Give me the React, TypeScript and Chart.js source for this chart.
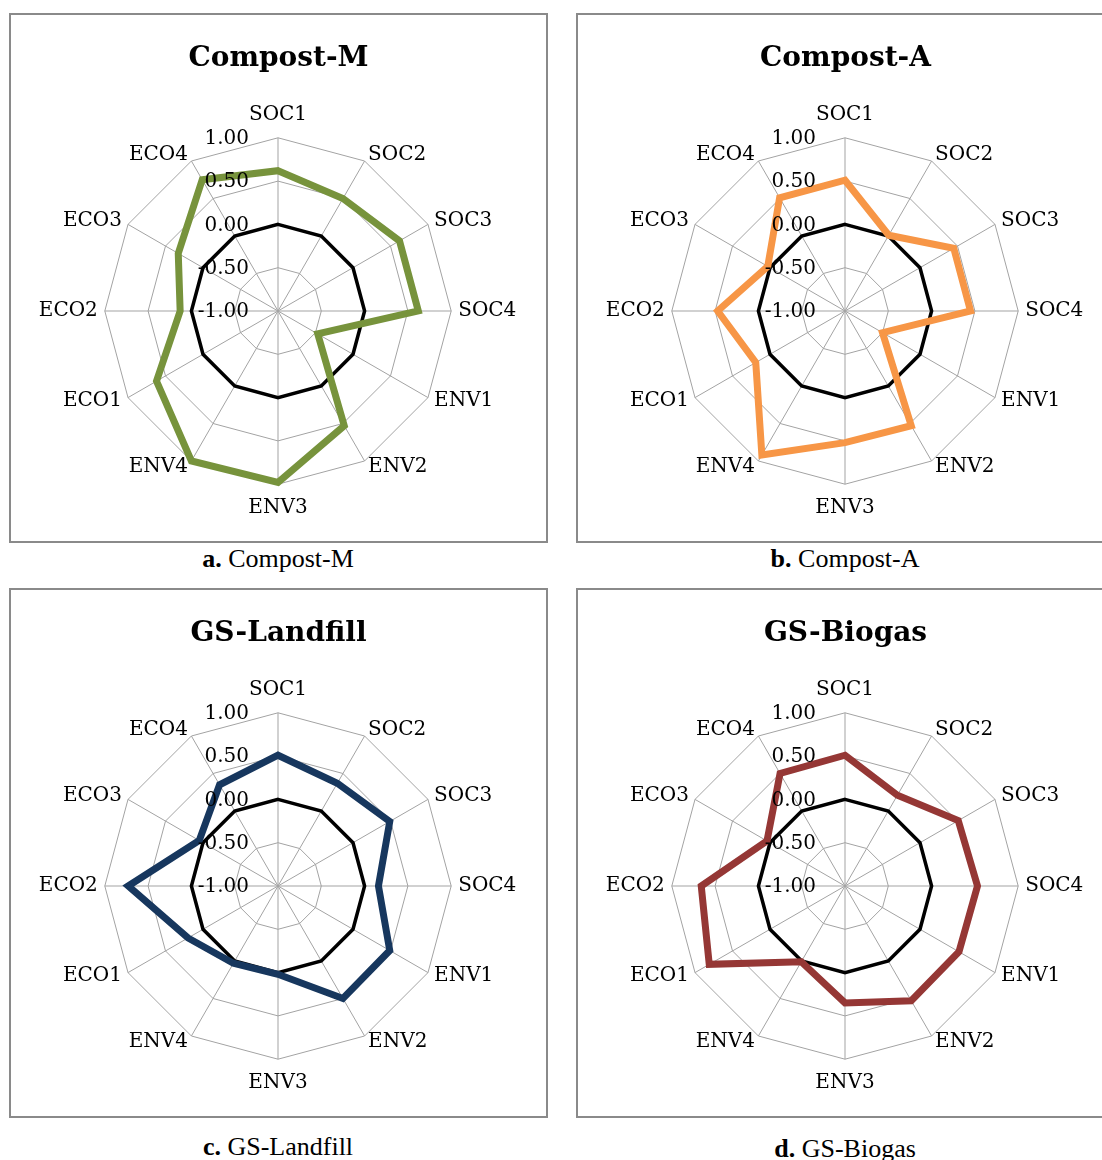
import { useEffect, useRef } from "react";
import { Chart, registerables } from "chart.js";

Chart.register(...registerables);

// Sustainability criteria around each radar
const criteria = ["SOC1", "SOC2", "SOC3", "SOC4", "ENV1", "ENV2", "ENV3", "ENV4", "ECO1", "ECO2", "ECO3", "ECO4"];

// Normalised scores per scenario (range -1 … 1)
const compostM = [0.62, 0.5, 0.62, 0.62, -0.47, 0.53, 0.98, 1.0, 0.62, 0.13, 0.33, 0.75];
const compostA = [0.51, 0.01, 0.45, 0.45, -0.5, 0.53, 0.52, 0.92, 0.19, 0.47, 0.03, 0.51];
const gsLandfill = [0.51, 0.37, 0.49, 0.16, 0.49, 0.5, 0.02, 0.03, 0.2, 0.73, 0.05, 0.35];
const gsBiogas = [0.51, 0.21, 0.51, 0.53, 0.52, 0.53, 0.35, 0.01, 0.81, 0.66, 0.04, 0.5];

// Reference (zero) polygon drawn in black on every chart
const zeroLine = [0, 0, 0, 0, 0, 0, 0, 0, 0, 0, 0, 0];

// Radial axis ticks
const tickValues = [-1, -0.5, 0, 0.5, 1];
const tickLabels = ["-1.00", "-0.50", "0.00", "0.50", "1.00"];

const panelTitles = ["Compost-M", "Compost-A", "GS-Landfill", "GS-Biogas"];
const captionLetters = ["a.", "b.", "c.", "d."];

const seriesByPanel = [compostM, compostA, gsLandfill, gsBiogas];
const colorByPanel = ["#77933c", "#f79646", "#17375e", "#953735"];

// Frame geometry of each panel on the page
const PANEL_W = 539;
const PANEL_H = 530;
const BORDER = 2;
const frames = [
  { left: 9, top: 13, captionBaseline: 568 },
  { left: 576, top: 13, captionBaseline: 568 },
  { left: 9, top: 588, captionBaseline: 1156 },
  { left: 576, top: 588, captionBaseline: 1158 },
];

const SERIF = '"DejaVu Serif", serif';
const CAPTION_FONT = 26;

// Draws the radial tick labels to the left of the vertical axis
const tickLabelPlugin = {
  id: "sideTickLabels",
  afterDatasetsDraw(chart: any) {
    const scale = chart.scales.r;
    const ctx = chart.ctx as CanvasRenderingContext2D;
    ctx.save();
    ctx.font = `20px ${SERIF}`;
    ctx.fillStyle = "#000";
    ctx.textAlign = "right";
    ctx.textBaseline = "middle";
    tickValues.forEach((v, i) => {
      const d = scale.getDistanceFromCenterForValue(v);
      ctx.fillText(tickLabels[i], scale.xCenter - 29, scale.yCenter - d + 1);
    });
    ctx.restore();
  },
};

function makeConfig(idx: number): any {
  return {
    type: "radar",
    data: {
      labels: criteria,
      datasets: [
        {
          label: panelTitles[idx],
          data: seriesByPanel[idx],
          borderColor: colorByPanel[idx],
          backgroundColor: "transparent",
          borderWidth: 7,
          fill: false,
          pointRadius: 0,
          pointHoverRadius: 0,
          tension: 0,
        },
        {
          label: "0",
          data: zeroLine,
          borderColor: "#000000",
          backgroundColor: "transparent",
          borderWidth: 3.5,
          fill: false,
          pointRadius: 0,
          pointHoverRadius: 0,
          tension: 0,
        },
      ],
    },
    options: {
      animation: false,
      responsive: false,
      events: [],
      layout: { padding: { top: 0, bottom: 33, left: 0, right: 0 } },
      plugins: {
        legend: { display: false },
        tooltip: { enabled: false },
        title: {
          display: true,
          text: panelTitles[idx],
          color: "#000",
          font: { family: SERIF, size: 28, weight: "bold", lineHeight: 1.2 },
          padding: { top: 27, bottom: 39 },
        },
      },
      scales: {
        r: {
          min: -1,
          max: 1,
          ticks: { display: false, stepSize: 0.5 },
          grid: { color: "#a3a3a3", lineWidth: 1, circular: false },
          angleLines: { display: true, color: "#a3a3a3", lineWidth: 1 },
          pointLabels: {
            color: "#000",
            font: { family: SERIF, size: 20, lineHeight: 0.01 },
            padding: (ctx: any) => (ctx.index % 6 === 0 ? 23 : 7),
          },
        },
      },
    },
    plugins: [tickLabelPlugin],
  };
}

function RadarPanel({ idx }: { idx: number }) {
  const ref = useRef<HTMLCanvasElement>(null);
  useEffect(() => {
    const chart = new Chart(ref.current as HTMLCanvasElement, makeConfig(idx));
    return () => chart.destroy();
  }, [idx]);
  const f = frames[idx];
  return (
    <div
      style={{
        position: "absolute",
        left: f.left,
        top: f.top,
        width: PANEL_W,
        height: PANEL_H,
        border: `${BORDER}px solid #8a8a8a`,
        boxSizing: "border-box",
        background: "#fff",
      }}
    >
      <canvas
        ref={ref}
        width={PANEL_W - 2 * BORDER}
        height={PANEL_H - 2 * BORDER}
        style={{ display: "block", width: PANEL_W - 2 * BORDER, height: PANEL_H - 2 * BORDER }}
      />
    </div>
  );
}

function Caption({ idx }: { idx: number }) {
  const f = frames[idx];
  const cx = f.left + BORDER + 267;
  return (
    <div
      style={{
        position: "absolute",
        left: cx - 200,
        width: 400,
        top: f.captionBaseline - 0.8375 * CAPTION_FONT,
        textAlign: "center",
        fontFamily: '"Liberation Serif", "Times New Roman", serif',
        fontSize: CAPTION_FONT,
        lineHeight: 1,
        color: "#000",
        whiteSpace: "nowrap",
      }}
    >
      <b>{captionLetters[idx]}</b> {panelTitles[idx]}
    </div>
  );
}

export default function App() {
  return (
    <div
      style={{
        position: "absolute",
        left: 0,
        top: 0,
        width: 1102,
        height: 1160,
        overflow: "hidden",
        background: "#fff",
      }}
    >
      {[0, 1, 2, 3].map((i) => (
        <RadarPanel key={`p${i}`} idx={i} />
      ))}
      {[0, 1, 2, 3].map((i) => (
        <Caption key={`c${i}`} idx={i} />
      ))}
    </div>
  );
}
